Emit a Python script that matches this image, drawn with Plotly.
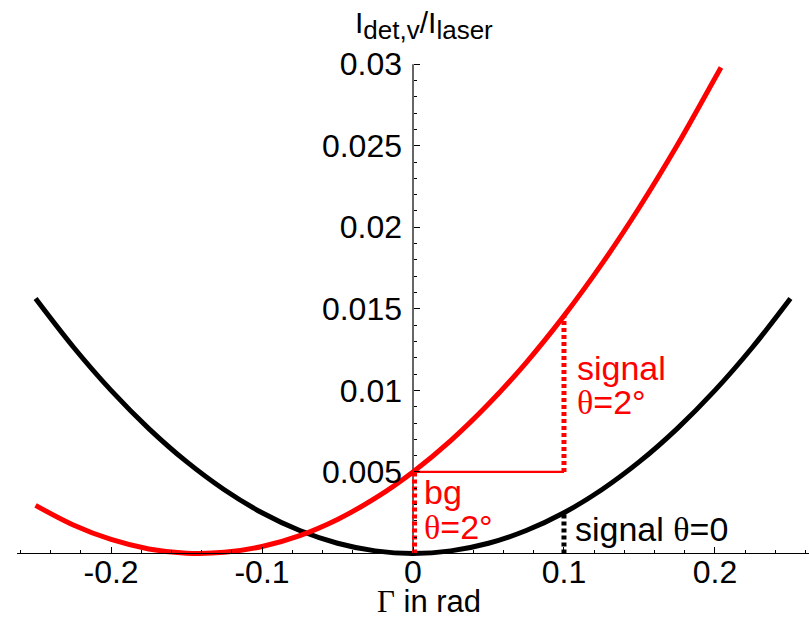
import plotly.graph_objects as go

# Detector signal vs. retardance Γ for two tilt angles θ
gamma_black = [-0.25, -0.225, -0.2, -0.175, -0.15, -0.125, -0.1, -0.075, -0.05, -0.025, 0.0,
               0.025, 0.05, 0.075, 0.1, 0.125, 0.15, 0.175, 0.2, 0.225, 0.25]
signal_black = [0.01563, 0.01266, 0.01000, 0.00766, 0.00563, 0.00391, 0.00250, 0.00141, 0.00063, 0.00016, 0.0,
                0.00016, 0.00063, 0.00141, 0.00250, 0.00391, 0.00563, 0.00766, 0.01000, 0.01266, 0.01563]

gamma_red = [-0.25, -0.225, -0.2, -0.175, -0.15, -0.125, -0.1, -0.075, -0.05, -0.025, 0.0,
             0.025, 0.05, 0.075, 0.1, 0.125, 0.15, 0.175, 0.2, 0.204]
signal_red = [0.00295, 0.00175, 0.00086, 0.00028, 0.00002, 0.00007, 0.00043, 0.00110, 0.00209, 0.00339, 0.00500,
              0.00692, 0.00916, 0.01171, 0.01457, 0.01774, 0.02123, 0.02503, 0.02914, 0.02980]

gamma_bg = 0.0
gamma_sig = 0.1
level_bg = 0.005
level_sig_red = 0.01457
level_sig_black = 0.0025

x_tickvals = [-0.2, -0.1, 0.0, 0.1, 0.2]
x_ticktext = ["-0.2", "-0.1", "0", "0.1", "0.2"]
y_tickvals = [0.005, 0.01, 0.015, 0.02, 0.025, 0.03]
y_ticktext = ["0.005", "0.01", "0.015", "0.02", "0.025", "0.03"]

RED = "#ff0000"
SANS = "Liberation Sans, Arial, sans-serif"
THETA = '<span style="font-family:Liberation Serif">θ</span>'

fig = go.Figure()

fig.add_trace(go.Scatter(x=gamma_black, y=signal_black, mode="lines",
                         line=dict(color="black", width=5, shape="spline"), hoverinfo="skip"))
fig.add_trace(go.Scatter(x=gamma_red, y=signal_red, mode="lines",
                         line=dict(color=RED, width=5, shape="spline"), hoverinfo="skip"))

# guide segments
fig.add_trace(go.Scatter(x=[gamma_bg, gamma_sig], y=[level_bg, level_bg], mode="lines",
                         line=dict(color=RED, width=2.2), hoverinfo="skip"))
fig.add_trace(go.Scatter(x=[gamma_bg + 0.001, gamma_bg + 0.001], y=[0, level_bg], mode="lines",
                         line=dict(color=RED, width=5, dash="4px,3px"), hoverinfo="skip"))
fig.add_trace(go.Scatter(x=[gamma_sig, gamma_sig], y=[level_bg, level_sig_red], mode="lines",
                         line=dict(color=RED, width=5, dash="4px,3px"), hoverinfo="skip"))
fig.add_trace(go.Scatter(x=[gamma_sig, gamma_sig], y=[0, level_sig_black], mode="lines",
                         line=dict(color="black", width=5, dash="4px,3px"), hoverinfo="skip"))

# vertical axis line at Γ = 0
fig.add_shape(type="line", xref="x", yref="y", x0=0, x1=0, y0=0, y1=y_tickvals[-1],
              line=dict(color="black", width=1.2), layer="below")

ann_font = dict(family=SANS, size=34)
SUB = '<sub><span style="font-size:26px">{}</span></sub>'
annotations = [
    dict(text="signal", x=gamma_sig, y=0.01140, xanchor="left", yanchor="middle", xshift=11,
         font=dict(ann_font, color=RED)),
    dict(text=THETA + "=2°", x=gamma_sig, y=0.00930, xanchor="left", yanchor="middle", xshift=11,
         font=dict(ann_font, color=RED)),
    dict(text="bg", x=gamma_bg, y=0.00380, xanchor="left", yanchor="middle", xshift=9,
         font=dict(ann_font, color=RED)),
    dict(text=THETA + "=2°", x=gamma_bg, y=0.00160, xanchor="left", yanchor="middle", xshift=9,
         font=dict(ann_font, color=RED)),
    dict(text="signal " + THETA + "=0", x=gamma_sig, y=0.00150, xanchor="left", yanchor="middle", xshift=9,
         font=dict(ann_font, color="black")),
    dict(text="I" + SUB.format("det,v") + "/I" + SUB.format("laser"), xref="x", yref="paper", x=0, y=1,
         xanchor="left", yanchor="bottom", xshift=-60, yshift=3,
         font=dict(family=SANS, size=30, color="black")),
    dict(text='<span style="font-family:Liberation Serif">Γ</span> in rad', xref="x", yref="paper",
         x=0, y=0, xanchor="left", yanchor="top", xshift=-38, yshift=-14,
         font=dict(family=SANS, size=31, color="black")),
]
for a in annotations:
    a.setdefault("xref", "x")
    a.setdefault("yref", "y")
    a["showarrow"] = False
fig.update_layout(annotations=annotations)

fig.update_layout(
    width=809, height=621,
    margin=dict(l=17, r=0, t=50, b=53),
    paper_bgcolor="white", plot_bgcolor="white",
    showlegend=False,
    xaxis=dict(range=[-0.2623, 0.2623], anchor="free", position=0.028,
               tickmode="array", tickvals=x_tickvals, ticktext=x_ticktext,
               ticks="inside", ticklen=6, tickwidth=1, tickcolor="black",
               minor=dict(tickmode="linear", tick0=0, dtick=0.02, ticks="inside",
                          ticklen=3, tickwidth=1, tickcolor="black"),
               showline=True, linecolor="black", linewidth=1.2,
               showgrid=False, zeroline=False, ticklabelstandoff=-10,
               tickfont=dict(family=SANS, size=32, color="black")),
    yaxis=dict(range=[-0.000889, 0.03087], anchor="free", position=0.5,
               tickmode="array", tickvals=y_tickvals, ticktext=y_ticktext,
               ticks="inside", ticklen=6, tickwidth=1, tickcolor="black",
               minor=dict(tickmode="linear", tick0=0, dtick=0.001, ticks="inside",
                          ticklen=3, tickwidth=1, tickcolor="black"),
               showline=False, showgrid=False, zeroline=False,
               ticklabelstandoff=11,
               tickfont=dict(family=SANS, size=32, color="black")),
)

fig.write_html("out.html")
